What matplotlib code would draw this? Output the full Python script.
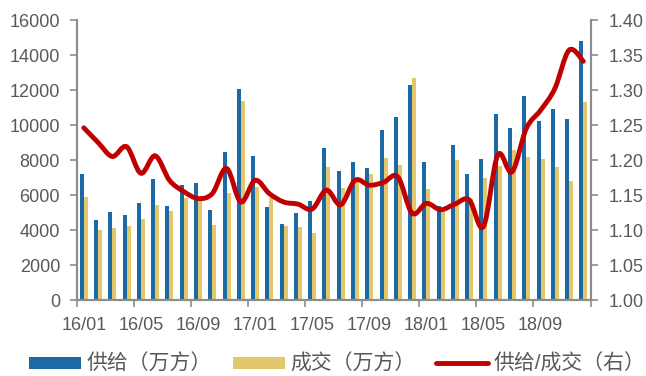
import matplotlib
matplotlib.use("Agg")
import matplotlib.pyplot as plt
import numpy as np
from matplotlib.path import Path
from matplotlib.patches import PathPatch, Patch
from matplotlib.lines import Line2D

plt.rcParams['font.family'] = ['Liberation Sans', 'Noto Sans CJK SC', 'DejaVu Sans']

months = [f"{y}/{m:02d}" for y in (16, 17, 18) for m in range(1, 13)]
supply = [7180, 4550, 5030, 4840, 5520, 6930, 5350, 6570, 6670, 5160, 8460, 12080,
          8240, 5310, 4320, 4970, 5640, 8670, 7350, 7890, 7520, 9710, 10460, 12270,
          7890, 5400, 8860, 7200, 8060, 10630, 9810, 11640, 10210, 10930, 10340, 14800]
deal = [5890, 3980, 4100, 4210, 4610, 5450, 5100, 5850, 5710, 4290, 6130, 11370,
        6480, 5810, 4210, 4150, 3830, 7620, 6380, 6760, 7180, 8110, 7730, 12690,
        6340, 5100, 7980, 5750, 6970, 7680, 8590, 8170, 8060, 7600, 6800, 11310]
ratio = [1.246, 1.225, 1.205, 1.219, 1.181, 1.206, 1.171, 1.155, 1.145, 1.152, 1.188, 1.140,
         1.171, 1.152, 1.140, 1.137, 1.130, 1.157, 1.136, 1.171, 1.164, 1.168, 1.176, 1.124,
         1.138, 1.129, 1.137, 1.143, 1.105, 1.207, 1.183, 1.245, 1.271, 1.302, 1.357, 1.341]
tick_labels = months[::4]

BLUE = '#1B6AA5'
YELLOW = '#E4C76A'
RED = '#C00000'
TXT = '#595959'
SPINE = '#8C8C8C'

fig = plt.figure(figsize=(6.46, 3.76), dpi=100)
ax = fig.add_axes([0.1187, 0.2021, 0.9141 - 0.1187, 0.9468 - 0.2021])
ax2 = ax.twinx()

x = np.arange(len(months))
w = 0.28
ax.bar(x - w / 2, supply, width=w, color=BLUE, zorder=2)
ax.bar(x + w / 2, deal, width=w, color=YELLOW, zorder=2)

ax.set_xlim(-0.5, len(months) - 0.5)
ax.set_ylim(0, 16000)
ax.set_yticks(np.arange(0, 16001, 2000))
ax2.set_ylim(1.0, 1.4)
ax2.set_yticks(np.arange(1.0, 1.401, 0.05))
ax2.yaxis.set_major_formatter(matplotlib.ticker.FormatStrFormatter('%.2f'))

# x ticks: boundaries as major ticks, labels on minor ticks
ax.set_xticks(np.arange(-0.5, len(months), 4))
ax.set_xticklabels([])
ax.set_xticks(x[::4], minor=True)
ax.set_xticklabels(tick_labels, minor=True)
ax.tick_params(axis='x', which='major', length=5, width=1.2, color=SPINE, direction='out')
ax.tick_params(axis='x', which='minor', length=0, pad=12, labelsize=13, labelcolor=TXT)
ax.tick_params(axis='y', length=5, width=1.2, color=SPINE, pad=7, labelsize=13, labelcolor=TXT)
ax2.tick_params(axis='y', length=5, width=1.2, color=SPINE, pad=8, labelsize=13, labelcolor=TXT)

for a in (ax, ax2):
    a.spines['top'].set_visible(False)
    for s in ('left', 'right', 'bottom'):
        a.spines[s].set_color(SPINE)
        a.spines[s].set_linewidth(1.5)

# smooth line (Catmull-Rom -> cubic Bezier) through the ratio points
px = x.astype(float)
py = np.array(ratio, dtype=float)
verts = [(px[0], py[0])]
codes = [Path.MOVETO]
n = len(px)
for i in range(n - 1):
    p0 = (px[max(i - 1, 0)], py[max(i - 1, 0)])
    p1 = (px[i], py[i])
    p2 = (px[i + 1], py[i + 1])
    p3 = (px[min(i + 2, n - 1)], py[min(i + 2, n - 1)])
    c1 = (p1[0] + (p2[0] - p0[0]) / 6, p1[1] + (p2[1] - p0[1]) / 6)
    c2 = (p2[0] - (p3[0] - p1[0]) / 6, p2[1] - (p3[1] - p1[1]) / 6)
    verts += [c1, c2, p2]
    codes += [Path.CURVE4] * 3
ax2.add_patch(PathPatch(Path(verts, codes), facecolor='none', edgecolor=RED,
                        linewidth=3.5, capstyle='round', joinstyle='round', zorder=3))

handles = [Patch(facecolor=BLUE, edgecolor='none'),
           Patch(facecolor=YELLOW, edgecolor='none'),
           Line2D([], [], color=RED, linewidth=3.5, solid_capstyle='round')]
labels = ['供给（万方）', '成交（万方）', '供给/成交（右）']
fig.legend(handles, labels, loc='center', bbox_to_anchor=(0.522, 0.032), ncol=3,
           frameon=False, fontsize=15, labelcolor=TXT, handlelength=2.5,
           handleheight=0.5, handletextpad=0.25, columnspacing=1.0,
           borderpad=0, borderaxespad=0)

fig.savefig('out.png', dpi=100)
